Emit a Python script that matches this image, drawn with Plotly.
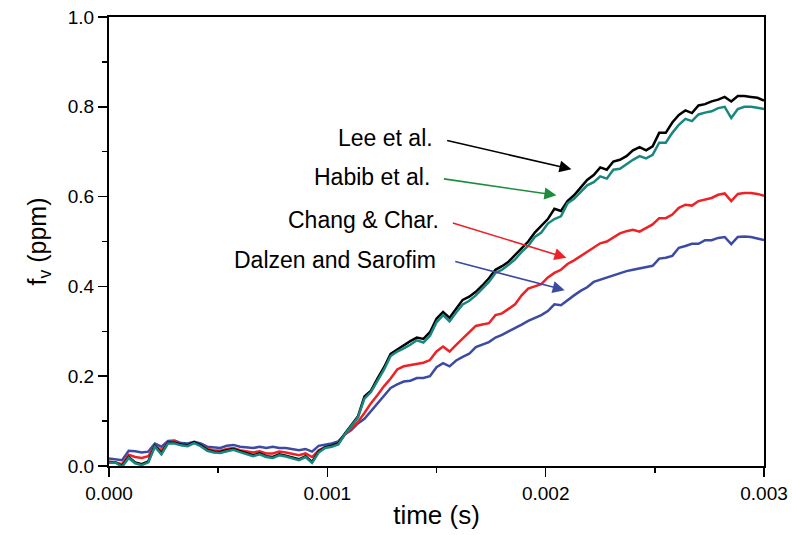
import plotly.graph_objects as go

# time grid (s)
time_s = [round(k * 0.00003, 5) for k in range(101)]

lee = [0.008, 0.008, 0.000, 0.020, 0.008, 0.004, 0.010, 0.045, 0.028, 0.052,
       0.052, 0.048, 0.046, 0.053, 0.046, 0.036, 0.032, 0.031, 0.035, 0.038,
       0.033, 0.029, 0.024, 0.028, 0.022, 0.020, 0.026, 0.023, 0.019, 0.015,
       0.022, 0.009, 0.032, 0.042, 0.045, 0.050, 0.072, 0.092, 0.110, 0.155,
       0.168, 0.195, 0.220, 0.250, 0.260, 0.270, 0.278, 0.286, 0.283, 0.298,
       0.328, 0.343, 0.330, 0.350, 0.370, 0.377, 0.388, 0.402, 0.418, 0.437,
       0.445, 0.455, 0.470, 0.485, 0.500, 0.520, 0.534, 0.550, 0.573, 0.568,
       0.590, 0.603, 0.620, 0.637, 0.648, 0.665, 0.660, 0.678, 0.682, 0.690,
       0.703, 0.710, 0.703, 0.712, 0.742, 0.742, 0.765, 0.782, 0.792, 0.786,
       0.803, 0.806, 0.812, 0.816, 0.822, 0.812, 0.824, 0.824, 0.822, 0.820,
       0.814]

habib = [0.007, 0.008, -0.002, 0.018, 0.006, 0.002, 0.008, 0.043, 0.026, 0.050,
         0.050, 0.046, 0.044, 0.051, 0.044, 0.034, 0.030, 0.029, 0.033, 0.036,
         0.031, 0.027, 0.022, 0.026, 0.020, 0.018, 0.024, 0.021, 0.017, 0.013,
         0.020, 0.007, 0.030, 0.040, 0.043, 0.048, 0.070, 0.088, 0.108, 0.150,
         0.165, 0.190, 0.215, 0.245, 0.255, 0.262, 0.270, 0.280, 0.275, 0.290,
         0.320, 0.336, 0.322, 0.342, 0.360, 0.368, 0.380, 0.395, 0.410, 0.430,
         0.437, 0.448, 0.460, 0.477, 0.490, 0.510, 0.520, 0.540, 0.550, 0.556,
         0.585, 0.595, 0.610, 0.625, 0.632, 0.645, 0.640, 0.660, 0.662, 0.673,
         0.682, 0.690, 0.685, 0.693, 0.720, 0.720, 0.742, 0.760, 0.773, 0.768,
         0.783, 0.787, 0.790, 0.797, 0.800, 0.775, 0.795, 0.800, 0.800, 0.798,
         0.795]

chang = [0.010, 0.008, 0.004, 0.025, 0.020, 0.018, 0.022, 0.045, 0.035, 0.052,
         0.055, 0.048, 0.047, 0.052, 0.046, 0.038, 0.035, 0.034, 0.038, 0.040,
         0.035, 0.033, 0.030, 0.033, 0.028, 0.028, 0.032, 0.030, 0.027, 0.024,
         0.028, 0.020, 0.035, 0.042, 0.045, 0.050, 0.070, 0.083, 0.098, 0.118,
         0.140, 0.158, 0.178, 0.195, 0.215, 0.222, 0.225, 0.227, 0.230, 0.236,
         0.255, 0.266, 0.255, 0.270, 0.284, 0.300, 0.312, 0.315, 0.318, 0.336,
         0.340, 0.350, 0.360, 0.380, 0.395, 0.400, 0.405, 0.420, 0.430, 0.437,
         0.450, 0.458, 0.468, 0.477, 0.488, 0.496, 0.500, 0.510, 0.518, 0.523,
         0.526, 0.522, 0.530, 0.538, 0.552, 0.552, 0.560, 0.575, 0.582, 0.580,
         0.590, 0.594, 0.597, 0.604, 0.607, 0.590, 0.606, 0.608, 0.608, 0.606,
         0.602]

dalzen = [0.017, 0.015, 0.013, 0.034, 0.033, 0.030, 0.032, 0.050, 0.043, 0.056,
          0.057, 0.051, 0.050, 0.054, 0.050, 0.043, 0.042, 0.040, 0.045, 0.047,
          0.043, 0.042, 0.040, 0.043, 0.040, 0.043, 0.040, 0.040, 0.038, 0.035,
          0.038, 0.032, 0.045, 0.048, 0.050, 0.055, 0.070, 0.080, 0.095, 0.105,
          0.122, 0.140, 0.155, 0.174, 0.182, 0.188, 0.190, 0.196, 0.196, 0.200,
          0.220, 0.229, 0.222, 0.235, 0.243, 0.250, 0.265, 0.270, 0.276, 0.286,
          0.292, 0.300, 0.307, 0.315, 0.323, 0.330, 0.336, 0.345, 0.360, 0.358,
          0.370, 0.380, 0.390, 0.398, 0.410, 0.415, 0.420, 0.425, 0.429, 0.434,
          0.437, 0.440, 0.443, 0.446, 0.462, 0.464, 0.468, 0.486, 0.490, 0.495,
          0.495, 0.503, 0.503, 0.508, 0.510, 0.494, 0.510, 0.511, 0.510, 0.507,
          0.503]

series = [
    ("Dalzen and Sarofim", dalzen, "#3b4ba3"),
    ("Chang & Char.", chang, "#ed2226"),
    ("Lee et al.", lee, "#000000"),
    ("Habib et al.", habib, "#17877f"),
]

# annotation labels: (text, text_x, text_y, tail_x, tail_y, head_x, head_y, colour)
labels = [
    ("Lee et al.", 0.001495, 0.731, 0.001542, 0.7256, 0.002118, 0.661, "#000000"),
    ("Habib et al.", 0.001480, 0.643, 0.001527, 0.640, 0.002049, 0.603, "#1e8c3c"),
    ("Chang & Char.", 0.001522, 0.5475, 0.001568, 0.5424, 0.002095, 0.4636, "#ed2226"),
    ("Dalzen and Sarofim", 0.001505, 0.4585, 0.001579, 0.4563, 0.002087, 0.3917, "#3b4ba3"),
]

FONT = "Arial, 'Liberation Sans', sans-serif"

fig = go.Figure()
for name, vals, col in series:
    fig.add_trace(go.Scatter(x=time_s, y=vals, mode="lines", name=name,
                             line=dict(color=col, width=2.5), showlegend=False))

for text, tx, ty, ax, ay, hx, hy, col in labels:
    fig.add_annotation(x=tx, y=ty, xref="x", yref="y", text=text, showarrow=False,
                       xanchor="right", yanchor="middle",
                       font=dict(family=FONT, size=23, color="#000000"))
    fig.add_annotation(x=hx, y=hy, ax=ax, ay=ay, xref="x", yref="y", axref="x", ayref="y",
                       text="", showarrow=True, arrowhead=2, arrowsize=1.5,
                       arrowwidth=1.6, arrowcolor=col, standoff=0)

axis_common = dict(showline=True, linecolor="#000000", linewidth=2, mirror=True,
                   ticks="outside", ticklen=9, tickwidth=1.5, tickcolor="#000000",
                   showgrid=False, zeroline=False, automargin=False,
                   ticklabeloverflow="allow",
                   tickfont=dict(family=FONT, size=19, color="#000000"))

fig.update_xaxes(range=[0, 0.003], dtick=0.001, tick0=0, tickformat=".3f",
                 minor=dict(dtick=0.0005, ticks="outside", ticklen=5, tickwidth=1.5,
                            tickcolor="#000000"),
                 title=dict(text="time (s)", font=dict(family=FONT, size=26, color="#000000"),
                            standoff=3),
                 **axis_common)
fig.update_yaxes(range=[0, 1.0], dtick=0.2, tick0=0, tickformat=".1f",
                 minor=dict(dtick=0.1, ticks="outside", ticklen=5, tickwidth=1.5,
                            tickcolor="#000000"),
                 title=dict(text="f<sub>v</sub> (ppm)",
                            font=dict(family=FONT, size=25, color="#000000"), standoff=14),
                 **axis_common)

fig.update_layout(width=792, height=535, plot_bgcolor="white", paper_bgcolor="white",
                  margin=dict(l=109, r=28, t=17, b=69, autoexpand=False))

fig.write_html("out.html", config={"displayModeBar": False, "staticPlot": True},
               post_script="document.body.style.margin='0';document.body.style.overflow='hidden';")
